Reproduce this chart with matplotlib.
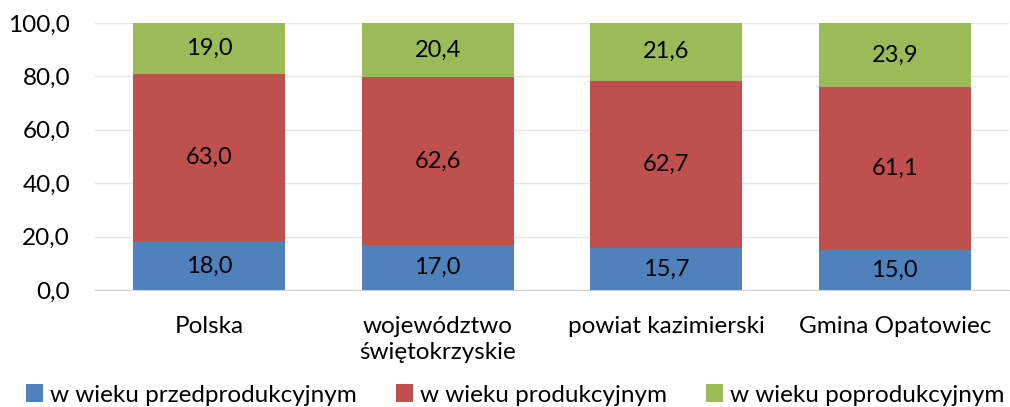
import matplotlib
matplotlib.use("Agg")
import matplotlib.pyplot as plt
import numpy as np

categories = ["Polska", "województwo\nświętokrzyskie", "powiat kazimierski", "Gmina Opatowiec"]
series_names = ["w wieku przedprodukcyjnym", "w wieku produkcyjnym", "w wieku poprodukcyjnym"]
pre = [18.0, 17.0, 15.7, 15.0]
prod = [63.0, 62.6, 62.7, 61.1]
post = [19.0, 20.4, 21.6, 23.9]
yticks = [0, 20, 40, 60, 80, 100]
colors = ["#4F81BD", "#C0504D", "#9BBB59"]

plt.rcParams['font.family'] = ['Lato', 'DejaVu Sans']

fig = plt.figure(figsize=(10.1, 4.07), dpi=100)
ax = fig.add_axes([95/1010, 1-290/407, 914/1010, 267/407])

x = np.arange(len(categories))
w = 0.665
bottom = np.zeros(len(categories))
for vals, c, name in zip([pre, prod, post], colors, series_names):
    ax.bar(x, vals, w, bottom=bottom, color=c, label=name, zorder=3)
    for xi, b, v in zip(x, bottom, vals):
        ax.text(xi, b + v / 2, f"{v:.1f}".replace(".", ","), ha="center", va="center",
                fontsize=17, color="black", zorder=4)
    bottom += np.array(vals)

ax.set_xlim(-0.5, len(categories) - 0.5)
ax.set_ylim(0, 100)
ax.set_yticks(yticks)
ax.set_yticklabels([f"{t:.1f}".replace(".", ",") for t in yticks], fontsize=17.5)
ax.set_xticks(x)
ax.set_xticklabels(categories, fontsize=17.5, linespacing=1.3)
ax.tick_params(axis="both", length=0)
ax.tick_params(axis="x", pad=19)
ax.tick_params(axis="y", pad=18)
ax.grid(axis="y", color="#E6E6E6", linewidth=1, zorder=0)
for s in ["top", "right", "left"]:
    ax.spines[s].set_visible(False)
ax.spines["bottom"].set_color("#D0D0D0")
ax.spines["bottom"].set_zorder(5)

fig.legend(loc="center", bbox_to_anchor=(0.51, 1 - 395/407), ncol=3, frameon=False,
           fontsize=17.5, handlelength=0.7, handleheight=0.7, handletextpad=0.3,
           columnspacing=1.6, borderaxespad=0, borderpad=0)

fig.savefig("out.png", dpi=100)
